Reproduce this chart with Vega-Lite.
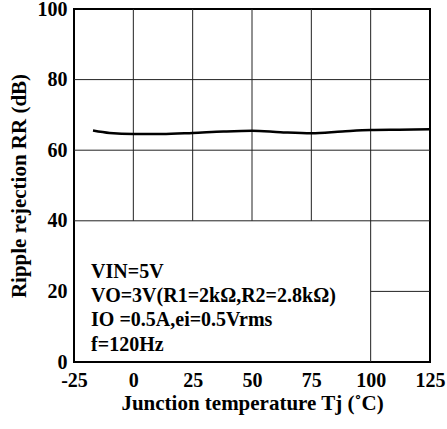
{
  "$schema": "https://vega.github.io/schema/vega-lite/v6.json",
  "autosize": {"type": "none"},
  "padding": {"left": 74, "top": 9, "right": 17, "bottom": 67},
  "width": 356,
  "height": 353,
  "background": "white",
  "config": {
    "view": {"stroke": "#000", "strokeWidth": 2},
    "font": "Liberation Serif",
    "axis": {"labelFont": "Liberation Serif", "titleFont": "Liberation Serif", "labelFontWeight": "bold", "titleFontWeight": "bold", "labelColor": "#000", "titleColor": "#000"}
  },
  "datasets": {
    "curve": [
      {"t": -17, "rr": 65.6},
      {"t": -10, "rr": 64.9},
      {"t": 0, "rr": 64.6},
      {"t": 12, "rr": 64.6},
      {"t": 25, "rr": 64.9},
      {"t": 38, "rr": 65.3},
      {"t": 50, "rr": 65.5},
      {"t": 62, "rr": 65.1},
      {"t": 75, "rr": 64.8},
      {"t": 88, "rr": 65.3},
      {"t": 100, "rr": 65.7},
      {"t": 112, "rr": 65.8},
      {"t": 125, "rr": 65.9}
    ],
    "grid": [
      {"x": 0, "x2": 0, "y": 40, "y2": 100},
      {"x": 25, "x2": 25, "y": 40, "y2": 100},
      {"x": 50, "x2": 50, "y": 40, "y2": 100},
      {"x": 75, "x2": 75, "y": 40, "y2": 100},
      {"x": 100, "x2": 100, "y": 0, "y2": 100},
      {"x": -25, "x2": 125, "y": 80, "y2": 80},
      {"x": -25, "x2": 125, "y": 60, "y2": 60},
      {"x": -25, "x2": 125, "y": 40, "y2": 40},
      {"x": 100, "x2": 125, "y": 20, "y2": 20}
    ],
    "notes": [
      {"x": -17.8, "y": 23.7, "label": "VIN=5V"},
      {"x": -17.8, "y": 17.1, "label": "VO=3V(R1=2kΩ,R2=2.8kΩ)"},
      {"x": -17.8, "y": 10.1, "label": "IO =0.5A,ei=0.5Vrms"},
      {"x": -17.8, "y": 3.0, "label": "f=120Hz"}
    ]
  },
  "layer": [
    {
      "data": {"name": "grid"},
      "mark": {"type": "rule", "color": "#222", "strokeWidth": 1},
      "encoding": {
        "x": {"field": "x", "type": "quantitative", "scale": {"domain": [-25, 125], "nice": false, "zero": false},
          "axis": {"values": [-25, 0, 25, 50, 75, 100, 125], "labelExpr": "'' + datum.value", "title": "Junction temperature Tj (˚C)", "labelFontSize": 20, "titleFontSize": 21, "grid": false, "ticks": false, "domain": false, "labelPadding": 8, "titlePadding": 2, "labelFlush": false}},
        "x2": {"field": "x2"},
        "y": {"field": "y", "type": "quantitative", "scale": {"domain": [0, 100], "nice": false},
          "axis": {"values": [0, 20, 40, 60, 80, 100], "title": "Ripple rejection RR (dB)", "labelFontSize": 20, "titleFontSize": 21, "grid": false, "ticks": false, "domain": false, "labelPadding": 7, "titlePadding": 8, "labelFlush": false}},
        "y2": {"field": "y2"}
      }
    },
    {
      "data": {"name": "curve"},
      "mark": {"type": "line", "color": "#000", "strokeWidth": 2.5, "interpolate": "monotone"},
      "encoding": {
        "x": {"field": "t", "type": "quantitative"},
        "y": {"field": "rr", "type": "quantitative"}
      }
    },
    {
      "data": {"name": "notes"},
      "mark": {"type": "text", "align": "left", "baseline": "alphabetic", "fontSize": 20, "fontWeight": "bold", "font": "Liberation Serif", "color": "#000"},
      "encoding": {
        "x": {"field": "x", "type": "quantitative"},
        "y": {"field": "y", "type": "quantitative"},
        "text": {"field": "label"}
      }
    }
  ]
}
